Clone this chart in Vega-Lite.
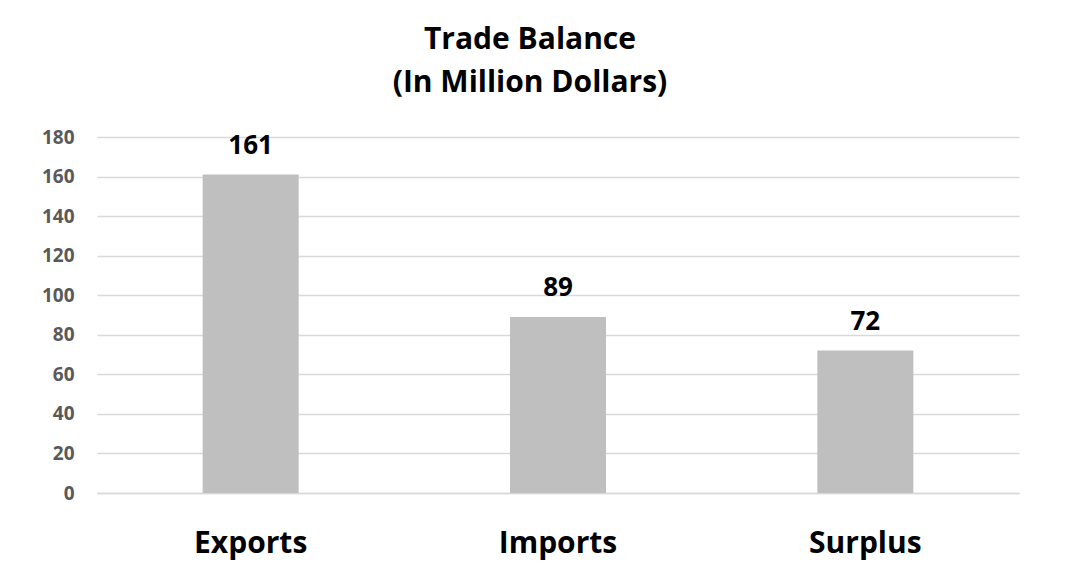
{
  "$schema": "https://vega.github.io/schema/vega-lite/v6.json",
  "autosize": {"type": "none"},
  "width": 922,
  "height": 356,
  "padding": {"left": 97, "top": 137, "right": 70, "bottom": 74},
  "background": "white",
  "title": {
    "text": ["Trade Balance", "(In Million Dollars)"],
    "font": "Open Sans",
    "fontSize": 30,
    "fontWeight": "bold",
    "color": "#000000",
    "lineHeight": 43,
    "anchor": "middle",
    "dx": -28,
    "offset": 30
  },
  "data": {
    "values": [
      {"category": "Exports", "value": 161},
      {"category": "Imports", "value": 89},
      {"category": "Surplus", "value": 72}
    ]
  },
  "encoding": {
    "x": {
      "field": "category",
      "type": "nominal",
      "sort": null,
      "title": null,
      "scale": {"paddingInner": 0.6876, "paddingOuter": 0.3438},
      "axis": {
        "labelAngle": 0,
        "labelFont": "Open Sans",
        "labelFontSize": 30,
        "labelFontWeight": "bold",
        "labelColor": "#000000",
        "labelPadding": 35,
        "ticks": false,
        "domain": true,
        "domainColor": "#d9d9d9",
        "domainWidth": 1.3
      }
    },
    "y": {
      "field": "value",
      "type": "quantitative",
      "title": null,
      "scale": {"domain": [0, 180]},
      "axis": {
        "values": [0, 20, 40, 60, 80, 100, 120, 140, 160, 180],
        "labelFont": "Open Sans",
        "labelFontSize": 19,
        "labelFontWeight": "bold",
        "labelColor": "#595959",
        "labelPadding": 23,
        "ticks": false,
        "domain": false,
        "grid": true,
        "gridColor": "#d9d9d9",
        "gridWidth": 1.3
      }
    }
  },
  "layer": [
    {"mark": {"type": "bar", "color": "#bfbfbf"}},
    {
      "mark": {
        "type": "text",
        "font": "Open Sans",
        "fontSize": 26,
        "fontWeight": "bold",
        "color": "#000000",
        "baseline": "alphabetic",
        "dy": -21
      },
      "encoding": {"text": {"field": "value", "type": "quantitative"}}
    }
  ],
  "config": {"view": {"stroke": null}}
}
